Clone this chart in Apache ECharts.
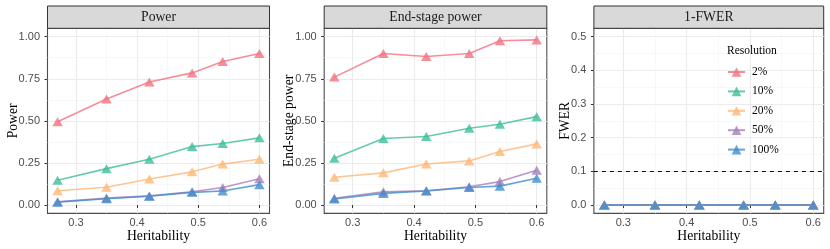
<!DOCTYPE html>
<html>
<head>
<meta charset="utf-8">
<script src="https://cdn.jsdelivr.net/npm/echarts@6/dist/echarts.min.js"></script>
<style>
html,body{margin:0;padding:0;background:#fff;}
#chart{width:830px;height:249px;}
</style>
</head>
<body>
<div id="chart"></div>
<script>
// ---- data ----
const heritability = [0.27, 0.35, 0.42, 0.49, 0.54, 0.6];
const resolutions = ['2%', '10%', '20%', '50%', '100%'];
const panelTitles = ['Power', 'End-stage power', '1-FWER'];
const yTitles = ['Power', 'End-stage power', 'FWER'];

const power2   = [0.495, 0.630, 0.731, 0.785, 0.853, 0.900];
const power10  = [0.147, 0.216, 0.272, 0.347, 0.365, 0.399];
const power20  = [0.085, 0.105, 0.154, 0.197, 0.243, 0.272];
const power50  = [0.019, 0.041, 0.054, 0.079, 0.104, 0.156];
const power100 = [0.017, 0.037, 0.052, 0.075, 0.083, 0.121];

const endPower2   = [0.760, 0.900, 0.882, 0.900, 0.976, 0.981];
const endPower10  = [0.278, 0.395, 0.407, 0.456, 0.480, 0.525];
const endPower20  = [0.165, 0.191, 0.244, 0.262, 0.318, 0.363];
const endPower50  = [0.040, 0.078, 0.085, 0.108, 0.139, 0.207];
const endPower100 = [0.036, 0.069, 0.083, 0.104, 0.112, 0.159];

const fwer2   = [0, 0, 0, 0, 0, 0];
const fwer10  = [0, 0, 0, 0, 0, 0];
const fwer20  = [0, 0, 0, 0, 0, 0];
const fwer50  = [0, 0, 0, 0, 0, 0];
const fwer100 = [0, 0, 0, 0, 0, 0];

const fwerThreshold = 0.1;

const xTicks = [0.3, 0.4, 0.5, 0.6];
const xMinorTicks = [0.35, 0.45, 0.55];
const powerTicks = [0, 0.25, 0.5, 0.75, 1.0];
const powerMinorTicks = [0.125, 0.375, 0.625, 0.875];
const fwerTicks = [0, 0.1, 0.2, 0.3, 0.4, 0.5];
const fwerMinorTicks = [0.05, 0.15, 0.25, 0.35, 0.45];

// ---- styling / layout ----
const colors = ['#F2727F', '#3FBE9B', '#FCB877', '#A77FB7', '#3F8ECE'];
const panelValues = [
  [power2, power10, power20, power50, power100],
  [endPower2, endPower10, endPower20, endPower50, endPower100],
  [fwer2, fwer10, fwer20, fwer50, fwer100]
];
const yRanges = [[-0.05, 1.05], [-0.05, 1.05], [-0.025, 0.525]];
const yMajor = [powerTicks, powerTicks, fwerTicks];
const yMinor = [powerMinorTicks, powerMinorTicks, fwerMinorTicks];
const yDigits = [2, 2, 1];
const yNameGaps = [34.5, 35, 29];
const xRange = [0.2535, 0.6165];

const grids = [
  {left: 47.5, top: 28.3, width: 222, height: 185.1},
  {left: 324.2, top: 28.3, width: 222.6, height: 185.1},
  {left: 593.9, top: 28.3, width: 229.8, height: 185.1}
];
const stripTop = 6;
const serif = "'Liberation Serif', 'DejaVu Serif', serif";
const sans = "'Liberation Sans', Arial, sans-serif";

const option = {
  animation: false,
  backgroundColor: '#ffffff',
  grid: grids.map(g => Object.assign({}, g, {
    show: true, backgroundColor: '#ffffff', borderColor: '#4d4d4d', borderWidth: 1.1,
    containLabel: false, outerBoundsMode: 'none'
  })),
  xAxis: [],
  yAxis: [],
  series: [],
  legend: {
    data: resolutions,
    orient: 'vertical',
    left: 727, top: 66,
    padding: 0,
    itemWidth: 17, itemHeight: 12, itemGap: 7.4,
    textStyle: {fontFamily: serif, fontSize: 11.5, color: '#000', padding: [0, 0, 0, 2]},
    itemStyle: {opacity: 0.8}
  },
  title: {
    text: 'Resolution', left: 727, top: 45, padding: 0,
    textStyle: {fontFamily: serif, fontSize: 11.5, fontWeight: 'normal', color: '#000'}
  },
  graphic: []
};

for (let p = 0; p < 3; p++) {
  // major x axis
  option.xAxis.push({
    type: 'value', gridIndex: p, min: xRange[0], max: xRange[1], position: 'bottom',
    name: 'Heritability', nameLocation: 'middle', nameGap: 16, nameMoveOverlap: false,
    nameTextStyle: {fontFamily: serif, fontSize: 13.7, color: '#000', verticalAlign: 'top'},
    axisLine: {show: false},
    axisTick: {show: true, length: 3, customValues: xTicks, lineStyle: {color: '#333', width: 1}},
    axisLabel: {customValues: xTicks, formatter: v => v.toFixed(1), color: '#4d4d4d', fontFamily: sans, fontSize: 11, margin: 4.5},
    splitLine: {show: true, lineStyle: {color: '#ebebeb', width: 1.1}}
  });
  // minor x axis
  option.xAxis.push({
    type: 'value', gridIndex: p, min: xRange[0], max: xRange[1], position: 'top',
    axisLine: {show: false},
    axisTick: {show: false, customValues: xMinorTicks},
    axisLabel: {show: false, customValues: xMinorTicks},
    splitLine: {show: true, lineStyle: {color: '#f3f3f3', width: 0.6}}
  });
  // major y axis
  option.yAxis.push({
    type: 'value', gridIndex: p, min: yRanges[p][0], max: yRanges[p][1], position: 'left',
    name: yTitles[p], nameLocation: 'middle', nameGap: yNameGaps[p], nameMoveOverlap: false,
    nameTextStyle: {fontFamily: serif, fontSize: 13.7, color: '#000', verticalAlign: 'middle'},
    axisLine: {show: false},
    axisTick: {show: true, length: 3, customValues: yMajor[p], lineStyle: {color: '#333', width: 1}},
    axisLabel: {customValues: yMajor[p], formatter: v => v.toFixed(yDigits[p]), color: '#4d4d4d', fontFamily: sans, fontSize: 11, margin: 7.5},
    splitLine: {show: true, lineStyle: {color: '#ebebeb', width: 1.1}}
  });
  // minor y axis
  option.yAxis.push({
    type: 'value', gridIndex: p, min: yRanges[p][0], max: yRanges[p][1], position: 'right',
    axisLine: {show: false},
    axisTick: {show: false, customValues: yMinor[p]},
    axisLabel: {show: false, customValues: yMinor[p]},
    splitLine: {show: true, lineStyle: {color: '#f3f3f3', width: 0.6}}
  });

  resolutions.forEach((r, k) => {
    const s = {
      name: r, type: 'line', xAxisIndex: 2 * p, yAxisIndex: 2 * p,
      data: heritability.map((h, i) => [h, panelValues[p][k][i]]),
      symbol: 'triangle', symbolSize: [10.5, 9],
      color: colors[k],
      lineStyle: {width: 1.6, opacity: 0.8, color: colors[k]},
      itemStyle: {opacity: 0.8, color: colors[k]},
      emphasis: {disabled: true},
      z: 3
    };
    if (p === 2 && k === 0) {
      s.markLine = {
        silent: true, symbol: 'none', label: {show: false},
        lineStyle: {color: '#111', type: [4, 4], width: 1},
        data: [{yAxis: fwerThreshold}]
      };
    }
    option.series.push(s);
  });

  const g = grids[p];
  option.graphic.push({
    type: 'rect', shape: {x: g.left, y: stripTop, width: g.width, height: g.top - stripTop},
    style: {fill: '#d9d9d9', stroke: '#333', lineWidth: 1}, z: 10
  });
  option.graphic.push({
    type: 'text', x: g.left + g.width / 2, y: stripTop + (g.top - stripTop) / 2,
    style: {text: panelTitles[p], fontFamily: serif, fontSize: 13.7, fill: '#1a1a1a', align: 'center', verticalAlign: 'middle'},
    z: 11
  });
}

const chart = echarts.init(document.getElementById('chart'), null, {renderer: 'canvas'});
chart.setOption(option);
</script>
</body>
</html>
